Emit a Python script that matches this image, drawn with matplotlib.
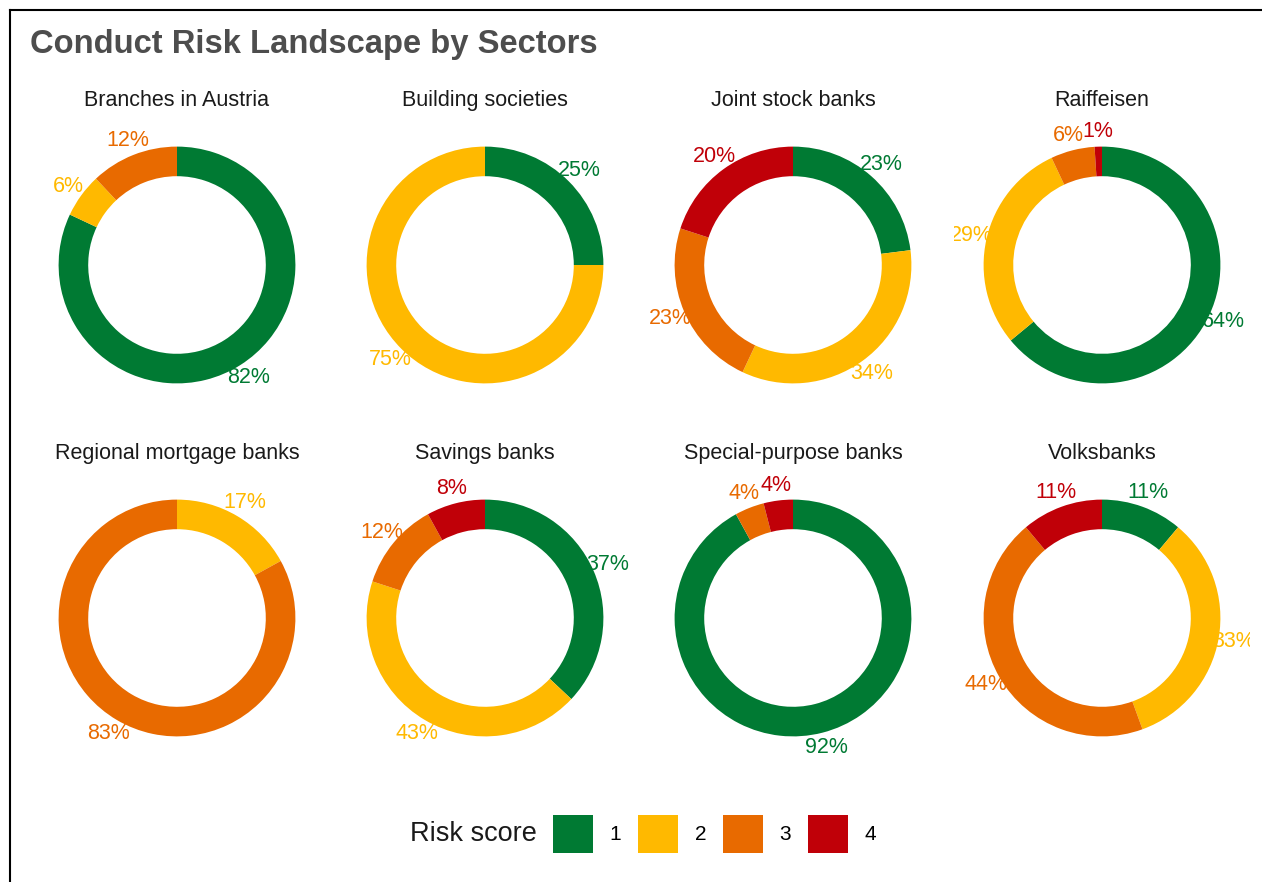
import math
import matplotlib
matplotlib.use("Agg")
import matplotlib.pyplot as plt
from matplotlib.patches import Patch
from matplotlib.lines import Line2D

plt.rcParams['font.family'] = ['Liberation Sans', 'DejaVu Sans']

# Share of institutions per risk score (1..4), in percent
sectors = ["Branches in Austria", "Building societies", "Joint stock banks", "Raiffeisen",
           "Regional mortgage banks", "Savings banks", "Special-purpose banks", "Volksbanks"]
score_1 = [82, 25, 23, 64, 0, 37, 92, 11]
score_2 = [6, 75, 34, 29, 17, 43, 0, 33]
score_3 = [12, 0, 23, 6, 83, 12, 4, 44]
score_4 = [0, 0, 20, 1, 0, 8, 4, 11]
risk_scores = ["1", "2", "3", "4"]
colors = ["#007A33", "#FFB900", "#E86A00", "#C00008"]

W, H = 1262, 882
fig = plt.figure(figsize=(W / 100, H / 100), dpi=100)

fig.text(30 / W, 1 - 45 / H, "Conduct Risk Landscape by Sectors", fontsize=23.6,
         fontweight='bold', color='#4D4D4D', ha='left', va='center')

col_x = [177, 485, 793, 1102]
row_y = [265, 618]
half = 148  # panel half-size in pixels
lim = 1.25

for i, name in enumerate(sectors):
    cx = col_x[i % 4]
    cy = row_y[i // 4]
    ax = fig.add_axes([(cx - half) / W, 1 - (cy + half) / H, 2 * half / W, 2 * half / H])
    vals = [score_1[i], score_2[i], score_3[i], score_4[i]]
    ax.pie(vals, colors=colors, startangle=90, counterclock=False, radius=1,
           wedgeprops=dict(width=0.25, linewidth=0))
    ax.set_xlim(-lim, lim)
    ax.set_ylim(-lim, lim)
    ax.set_aspect('auto')
    ax.axis('off')

    # percent labels at the middle of each segment, just outside the ring
    total = sum(vals)
    start = 0
    for v, c in zip(vals, colors):
        if v > 0:
            mid = (start + v / 2) / total * 2 * math.pi
            r = 1.13
            ax.text(r * math.sin(mid), r * math.cos(mid), f"{v}%", color=c, fontsize=15.5,
                    ha='center', va='center', zorder=0, clip_on=True)
        start += v

    ax.text(0, 1.39, name, fontsize=15.5, color='#1a1a1a', ha='center', va='center',
            clip_on=False)

# legend
fig.text(537 / W, 1 - 834 / H, "Risk score", fontsize=19.5, color='#1a1a1a',
         ha='right', va='center')
handles = [Patch(facecolor=c, edgecolor='none') for c in colors]
fig.legend(handles, risk_scores, ncol=4, loc='center left',
           bbox_to_anchor=(553 / W, 1 - 834 / H), frameon=False, fontsize=15,
           handlelength=1.92, handleheight=2.45, handletextpad=0.8,
           columnspacing=0.8, borderpad=0, borderaxespad=0)

# frame lines along the top and left edge
fig.add_artist(Line2D([10 / W, 1], [1 - 10 / H, 1 - 10 / H], color='black', lw=1.5,
                      transform=fig.transFigure))
fig.add_artist(Line2D([10 / W, 10 / W], [0, 1 - 10 / H], color='black', lw=1.5,
                      transform=fig.transFigure))

fig.savefig("out.png", dpi=100, facecolor='white')
